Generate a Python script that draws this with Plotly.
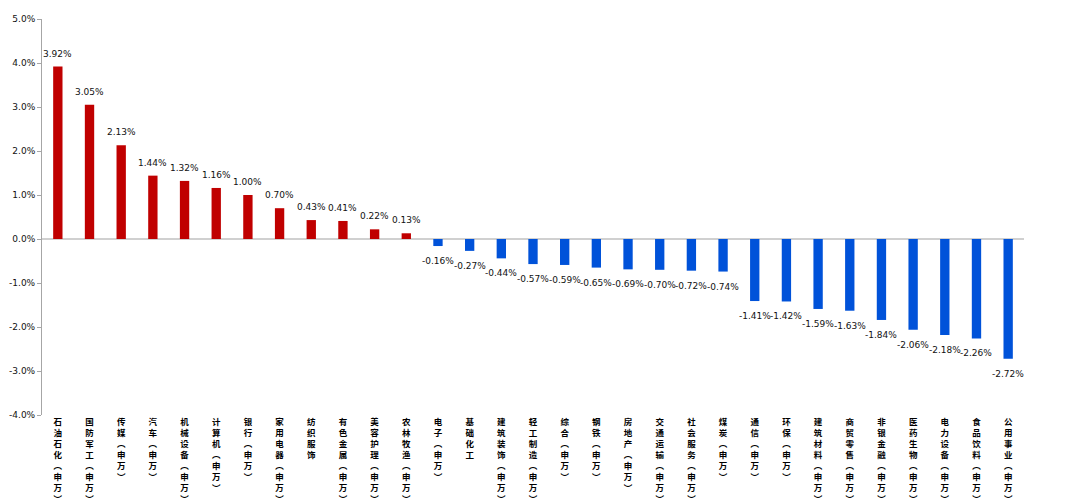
import plotly.graph_objects as go

categories = ["石油石化(申万)", "国防军工(申万)", "传媒(申万)", "汽车(申万)", "机械设备(申万)",
              "计算机(申万)", "银行(申万)", "家用电器(申万)", "纺织服饰", "有色金属(申万)",
              "美容护理(申万)", "农林牧渔(申万)", "电子(申万)", "基础化工", "建筑装饰(申万)",
              "轻工制造(申万)", "综合(申万)", "钢铁(申万)", "房地产(申万)", "交通运输(申万)",
              "社会服务(申万)", "煤炭(申万)", "通信(申万)", "环保(申万)", "建筑材料(申万)",
              "商贸零售(申万)", "非银金融(申万)", "医药生物(申万)", "电力设备(申万)", "食品饮料(申万)",
              "公用事业(申万)"]
values = [3.92, 3.05, 2.13, 1.44, 1.32, 1.16, 1.00, 0.70, 0.43, 0.41, 0.22, 0.13,
          -0.16, -0.27, -0.44, -0.57, -0.59, -0.65, -0.69, -0.70, -0.72, -0.74,
          -1.41, -1.42, -1.59, -1.63, -1.84, -2.06, -2.18, -2.26, -2.72]
y_ticks = [5, 4, 3, 2, 1, 0, -1, -2, -3, -4]

RED = "#C00000"
BLUE = "#0052D9"
colors = [RED if v >= 0 else BLUE for v in values]


def vertical(label):
    # stack characters top-to-bottom, using vertical presentation forms for brackets
    mapped = label.replace("(", "\ufe35").replace(")", "\ufe36")
    return "<br>".join(mapped)


fig = go.Figure(go.Bar(x=categories, y=values, marker=dict(color=colors, line=dict(width=0)),
                       hoverinfo="skip"))

annotations = []
for c, v in zip(categories, values):
    annotations.append(dict(
        x=c, y=v, xref="x", yref="y", text=f"{v:.2f}%", showarrow=False,
        xanchor="center", yanchor="middle", yshift=13 if v >= 0 else -15,
        font=dict(family="DejaVu Sans", size=9, color="#111111")))

# page body adds an 8px offset; sizes compensate so the plot sits where the reference has it
fig.update_layout(
    width=1072, height=496,
    margin=dict(l=34, r=56, t=11, b=89),
    paper_bgcolor="white", plot_bgcolor="white",
    bargap=0.705,
    showlegend=False,
    annotations=annotations,
    xaxis=dict(tickvals=categories, ticktext=[vertical(c) for c in categories], tickangle=0,
               tickfont=dict(family="Noto Sans CJK SC", size=8.5, color="#000000", weight=700),
               showgrid=False, zeroline=False, showline=False, ticks="",
               range=[-0.5, len(categories) - 0.5], automargin=False),
    yaxis=dict(range=[-4, 5], tickvals=y_ticks, ticktext=[f"{t:.1f}%" for t in y_ticks],
               showgrid=False, showline=True, linecolor="#A6A6A6", linewidth=1,
               ticks="outside", ticklen=4, tickcolor="#A6A6A6", automargin=False,
               zeroline=True, zerolinecolor="#D0D0D0", zerolinewidth=2,
               tickfont=dict(family="DejaVu Sans", size=9, color="#111111")),
)

fig.write_html("out.html")
